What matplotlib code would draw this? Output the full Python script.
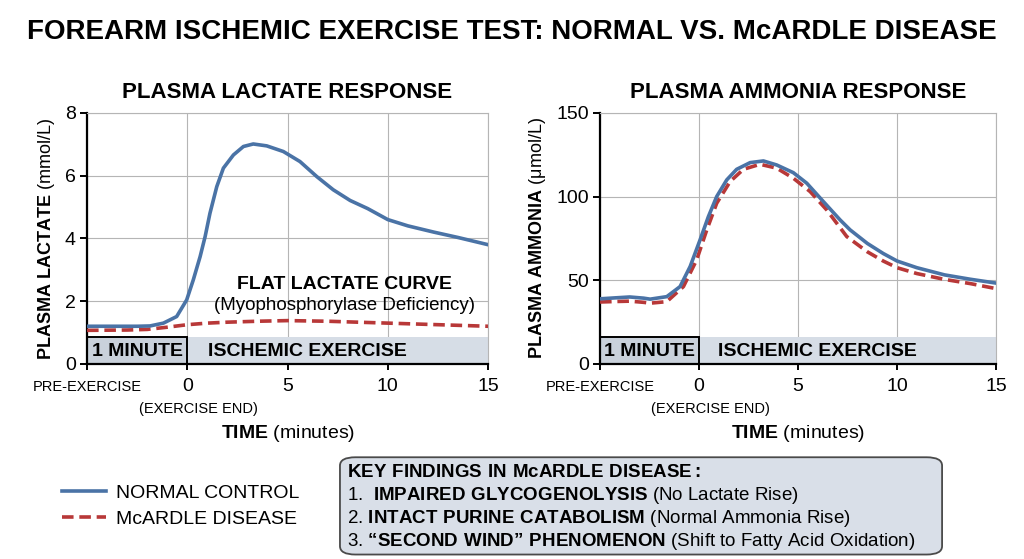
import matplotlib
matplotlib.use("Agg")
import matplotlib.pyplot as plt
from matplotlib import font_manager
from matplotlib.patches import Rectangle, FancyBboxPatch
from matplotlib.lines import Line2D
import numpy as np

# pick a condensed font if available
FONT = "Liberation Sans"
try:
    font_manager.findfont("Liberation Sans Narrow", fallback_to_default=False)
    FONT = "Liberation Sans Narrow"
except Exception:
    pass

plt.rcParams["font.family"] = [FONT, "DejaVu Sans"]
plt.rcParams["mathtext.fontset"] = "custom"
plt.rcParams["mathtext.rm"] = FONT
plt.rcParams["mathtext.bf"] = FONT + ":bold"

# data (minutes, relative to exercise end)
lac_t = [-5, -3.5, -2.5, -1.86, -1.19, -0.53, -0.03, 0.30, 0.64, 0.89, 1.13, 1.47, 1.80, 2.30, 2.80,
         3.29, 3.96, 4.79, 5.62, 6.46, 7.28, 8.12, 9, 10, 11, 12.3, 13.5, 15]
lac_normal = [1.2, 1.2, 1.2, 1.21, 1.30, 1.51, 2.04, 2.68, 3.42, 4.06, 4.80, 5.65, 6.24, 6.66, 6.93,
              7.01, 6.95, 6.77, 6.45, 5.97, 5.55, 5.21, 4.95, 4.6, 4.4, 4.2, 4.03, 3.8]
lac_mcardle_t = [-5, -3, -2, -1, 0, 1, 2, 3.5, 5, 7, 10, 12.5, 15]
lac_mcardle = [1.07, 1.08, 1.1, 1.17, 1.25, 1.3, 1.33, 1.36, 1.38, 1.36, 1.3, 1.25, 1.2]

amm_t = [-5, -4.2, -3.5, -2.8, -2.47, -1.63, -0.96, -0.45, 0.05, 0.47, 0.89, 1.40, 1.90, 2.58, 3.25,
         3.92, 4.76, 5.44, 6.28, 7.12, 7.63, 8.5, 9.3, 10, 11, 12.4, 13.7, 15]
amm_normal = [38.9, 39.5, 40, 39.3, 38.7, 40.2, 46.2, 58.2, 74.1, 88.0, 100.0, 110.0, 116.3, 120.3, 121.3,
              118.9, 114.3, 108.0, 97.0, 86.1, 80.1, 72, 66, 61.5, 57.5, 53.2, 50.6, 48.3]
amm_mcardle_t = [-5, -4.2, -3.5, -2.8, -2.47, -1.63, -0.79, -0.12, 0.39, 0.89, 1.57, 2.24, 3.08, 3.92,
                 4.76, 5.61, 6.45, 7.46, 8.5, 9.3, 10, 11, 12.4, 13.7, 15]
amm_mcardle = [37, 37.3, 37.5, 36.8, 36.3, 37.2, 46.2, 62.2, 80.1, 96.0, 109.0, 116.3, 119.3, 117.0,
               111.0, 103.0, 92.0, 76.1, 67, 61.5, 57.5, 54, 50.5, 48, 45]

band_lac = 0.86
band_amm = 16

BLUE = "#4a73a6"
RED = "#b83838"


def bf(s):
    return r"$\mathbf{" + s.replace(" ", r"\ ") + "}$"


fig = plt.figure(figsize=(10.24, 5.59), dpi=100)

fig.text(0.5, 0.942, "FOREARM ISCHEMIC EXERCISE TEST: NORMAL VS. McARDLE DISEASE",
         ha="center", va="center", fontsize=20, fontweight="bold")


def panel(rect, title, ylab, ymax, ystep, band, t_n, y_n, t_m, y_m):
    ax = fig.add_axes(rect)
    ax.set_xlim(-5, 15)
    ax.set_ylim(0, ymax)
    ax.set_yticks(np.arange(0, ymax + 1, ystep))
    ax.set_xticks([-5, 0, 5, 10, 15])
    ax.set_xticklabels(["", "0", "5", "10", "15"])
    ax.grid(True, color="#b5b5b5", lw=0.8)
    ax.set_axisbelow(True)
    for s in ["top", "right"]:
        ax.spines[s].set_color("#b5b5b5")
        ax.spines[s].set_linewidth(0.8)
    for s in ["left", "bottom"]:
        ax.spines[s].set_linewidth(1.6)
    ax.tick_params(axis="both", labelsize=14, length=5, width=1.4, pad=3)
    ax.tick_params(axis="x", direction="inout", length=9, pad=6)

    # exercise band
    ax.add_patch(Rectangle((-5, 0), 20, band, facecolor="#d6dde6", edgecolor="none", zorder=1))
    ax.add_patch(Rectangle((-5, 0), 5, band, facecolor="#c9d1db", edgecolor="black", lw=1.4, zorder=2))
    ax.text(-2.5, band * 0.47, "1 MINUTE", ha="center", va="center", fontsize=14, fontweight="bold", zorder=3)
    ax.text(6.0, band * 0.47, "ISCHEMIC EXERCISE", ha="center", va="center", fontsize=14, fontweight="bold", zorder=3)

    ax.plot(t_n, y_n, color=BLUE, lw=2.6, zorder=5, solid_joinstyle="round")
    ax.plot(t_m, y_m, color=RED, lw=2.6, ls=(0, (3.2, 1.6)), zorder=4)

    ax.set_title(title, fontsize=16, fontweight="bold", pad=11)
    ax.set_ylabel(ylab, fontsize=13, labelpad=6)
    ax.set_xlabel(bf("TIME") + " (minutes)", fontsize=14, labelpad=20)

    ax.text(-5, -0.065, "PRE-EXERCISE", transform=ax.get_xaxis_transform(),
            ha="center", va="top", fontsize=10.5, clip_on=False)
    ax.text(0.55, -0.15, "(EXERCISE END)", transform=ax.get_xaxis_transform(),
            ha="center", va="top", fontsize=10.5, clip_on=False)
    return ax


ax1 = panel([0.085, 0.349, 0.3916, 0.449], "PLASMA LACTATE RESPONSE",
            bf("PLASMA LACTATE") + " (mmol/L)", 8, 2, band_lac,
            lac_t, lac_normal, lac_mcardle_t, lac_mcardle)
ax1.text(7.85, 2.52, "FLAT LACTATE CURVE", ha="center", va="center", fontsize=14, fontweight="bold")
ax1.text(7.85, 1.85, "(Myophosphorylase Deficiency)", ha="center", va="center", fontsize=13.5)

ax2 = panel([0.586, 0.349, 0.3867, 0.449], "PLASMA AMMONIA RESPONSE",
            bf("PLASMA AMMONIA") + " (μmol/L)", 150, 50, band_amm,
            amm_t, amm_normal, amm_mcardle_t, amm_mcardle)

# legend
handles = [Line2D([], [], color=BLUE, lw=2.6),
           Line2D([], [], color=RED, lw=2.6, ls=(0, (3.2, 1.6)))]
fig.legend(handles, ["NORMAL CONTROL", "McARDLE DISEASE"], loc="upper left",
           bbox_to_anchor=(0.043, 0.165), frameon=False, fontsize=14,
           handlelength=2.3, handletextpad=0.5, labelspacing=0.45)

# key findings box
box = FancyBboxPatch((0.332, 0.008), 0.588, 0.174, boxstyle="round,pad=0.0,rounding_size=0.015",
                     transform=fig.transFigure, facecolor="#d9dfe8", edgecolor="#4a4a4a", lw=1.3)
fig.add_artist(box)
lines = [
    bf("KEY FINDINGS IN McARDLE DISEASE:"),
    "1.  " + bf("IMPAIRED GLYCOGENOLYSIS") + " (No Lactate Rise)",
    "2. " + bf("INTACT PURINE CATABOLISM") + " (Normal Ammonia Rise)",
    "3. " + bf("“SECOND WIND” PHENOMENON") + " (Shift to Fatty Acid Oxidation)",
]
for i, s in enumerate(lines):
    fig.text(0.339, 0.155 - i * 0.0415, s, ha="left", va="center", fontsize=13.5)

fig.savefig("out.png", dpi=100)
